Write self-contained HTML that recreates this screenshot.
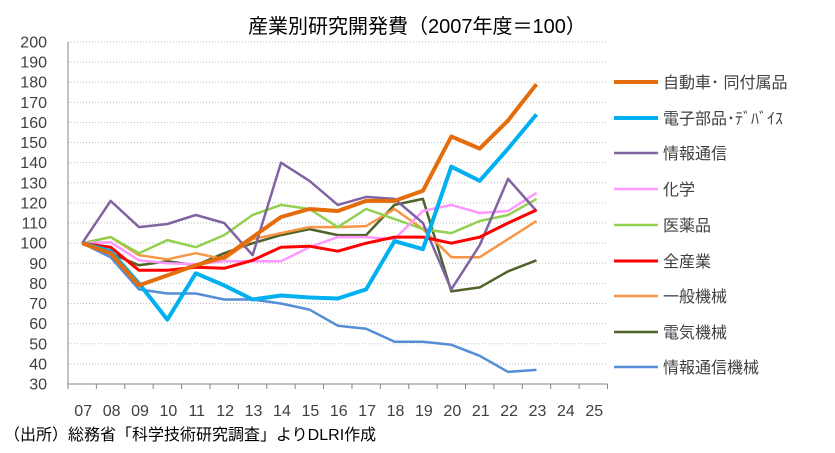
<!DOCTYPE html>
<html><head><meta charset="utf-8"><style>
body{margin:0;background:#fff}
svg{display:block;font-family:"Liberation Sans","Noto Sans CJK JP",sans-serif}
</style></head><body>
<svg id="s" width="835" height="453" viewBox="0 0 835 453">
<text x="417" y="33" font-size="20" text-anchor="middle" fill="#000">産業別研究開発費（2007年度＝100）</text>
<g id="grid" stroke="#bfbfbf" stroke-dasharray="1,2" stroke-width="1"></g>
<g id="ylab" font-size="16" fill="#404040" text-anchor="end"></g>
<line x1="68" y1="42" x2="68" y2="384" stroke="#868686"/>
<line x1="68" y1="384" x2="607.5" y2="384" stroke="#868686"/>
<g id="xt" stroke="#868686"></g>
<g id="xlab" font-size="16" fill="#404040" text-anchor="middle"></g>
<g id="lines" fill="none" stroke-linejoin="round"></g>
<g font-size="16" fill="#404040">
<line x1="614" y1="82" x2="658" y2="82" stroke="#E46C0A" stroke-width="4"/><text x="663" y="88">自動車･ 同付属品</text>
<line x1="614" y1="118" x2="658" y2="118" stroke="#00B0F0" stroke-width="4"/><text x="663" y="124">電子部品･ﾃﾞﾊﾞｲｽ</text>
<line x1="614" y1="153" x2="658" y2="153" stroke="#8064A2" stroke-width="2.5"/><text x="663" y="159">情報通信</text>
<line x1="614" y1="189" x2="658" y2="189" stroke="#FF99FF" stroke-width="2.5"/><text x="663" y="195">化学</text>
<line x1="614" y1="225" x2="658" y2="225" stroke="#92D050" stroke-width="2.5"/><text x="663" y="231">医薬品</text>
<line x1="614" y1="261" x2="658" y2="261" stroke="#FF0000" stroke-width="3"/><text x="663" y="267">全産業</text>
<line x1="614" y1="296" x2="658" y2="296" stroke="#F79646" stroke-width="2.5"/><text x="663" y="302">一般機械</text>
<line x1="614" y1="332" x2="658" y2="332" stroke="#4F6228" stroke-width="2.5"/><text x="663" y="338">電気機械</text>
<line x1="614" y1="367" x2="658" y2="367" stroke="#558ED5" stroke-width="2.5"/><text x="663" y="373">情報通信機械</text>
</g>
<text x="4" y="440" font-size="16" fill="#000">（出所）総務省「科学技術研究調査」よりDLRI作成</text>
</svg>
<script>
var NS="http://www.w3.org/2000/svg";
function el(p,t,a,tx){var e=document.createElementNS(NS,t);for(var k in a)e.setAttribute(k,a[k]);if(tx)e.textContent=tx;document.getElementById(p).appendChild(e);}
var W=(607.5-68)/19;
function Y(v){return 384-(v-30)*2.012;}
function X(i){return 68+W/2+W*i;}
for(var v=30;v<=200;v+=10){if(v>30)el("grid","line",{x1:68,x2:607.5,y1:Y(v),y2:Y(v)});el("ylab","text",{x:47,y:Y(v)+5.5},String(v));}
for(var i=0;i<=19;i++)el("xt","line",{x1:68+W*i,x2:68+W*i,y1:384,y2:389});
var xl=["07","08","09","10","11","12","13","14","15","16","17","18","19","20","21","22","23","24","25"];
for(var i=0;i<19;i++)el("xlab","text",{x:X(i)+1,y:416},xl[i]);
var S=[
["#558ED5",2.5,[100,93,77,75,75,72,72,70,67,59,57.5,51,51,49.5,44,36,37]],
["#4F6228",2.5,[100,95,89,91,89,95,100,104,107,104,104,119,122,76,78,86,91.5]],
["#F79646",2.5,[100,103,94,92,95,92,102,105,108,108,108.5,117,107,93,93,102,111]],
["#92D050",2.5,[100,103,95,101.5,98,104,114,119,117,108,117,112,107,105,111,114,122]],
["#FF99FF",2.5,[100,100.5,91.5,90,89.5,91,91,91,98,103,103,102,116,119,115,116,125]],
["#8064A2",2.5,[100,121,108,109.5,114,110,94,140,131,119,123,122,110,77,99,132,116]],
["#FF0000",3,[100,98,86.5,86.5,88,87.5,91.5,98,98.5,96,100,103,103,100,103,110,116.5]],
["#00B0F0",4,[100,96,80,62,85,79,72,74,73,72.5,77,101,97,138,131,147,164]],
["#E46C0A",4,[100,95,79,84,89,93,103,113,117,116,121,121,126,153,147,161,179]]
];
S.forEach(function(s){var p=s[2].map(function(v,i){return X(i).toFixed(1)+","+Y(v).toFixed(1)}).join(" ");el("lines","polyline",{points:p,stroke:s[0],"stroke-width":s[1]});});
</script>
</body></html>
